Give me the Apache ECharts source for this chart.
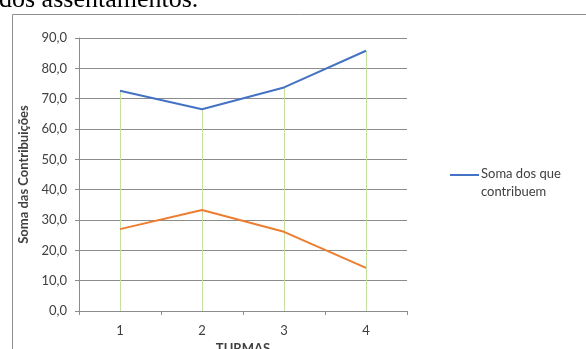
<!DOCTYPE html>
<html>
<head>
<meta charset="utf-8">
<script src="https://cdn.jsdelivr.net/npm/echarts@6/dist/echarts.min.js"></script>
<style>
html,body{margin:0;padding:0;background:#fff;}
#c{width:586px;height:349px;}
</style>
</head>
<body>
<div id="c"></div>
<script>
var categories = ['1', '2', '3', '4'];
var seriesNames = ['Soma dos que contribuem', 'Soma dos que não contribuem'];
var contribuem = [72.6, 66.5, 73.7, 85.8];
var naoContribuem = [27.0, 33.3, 26.1, 14.2];
var yTicks = [0, 10, 20, 30, 40, 50, 60, 70, 80, 90];
var yAxisTitle = 'Soma das Contribuições';
var xAxisTitle = 'TURMAS';
var headerText = 'dos assentamentos.';

var FONT = 'Lato';
var chart = echarts.init(document.getElementById('c'), null, {renderer: 'canvas'});

var dropLines = categories.map(function (c, i) {
  var top = Math.max(contribuem[i], naoContribuem[i]);
  return [{coord: [i, top]}, {coord: [i, 0]}];
});

chart.setOption({
  animation: false,
  backgroundColor: '#fff',
  textStyle: {fontFamily: FONT},
  grid: {left: 79, right: 179, top: 38, bottom: 38, containLabel: false, outerBoundsMode: 'none'},
  graphic: [
    {type: 'rect', left: 10, top: 12, z: -1, silent: true,
     shape: {x: 0, y: 0, width: 600, height: 360},
     style: {fill: 'none', stroke: '#8e8e8e', lineWidth: 1}},
    {type: 'text', x: -1, y: 0, silent: true,
     style: {text: headerText, font: '26px "Liberation Serif"', fill: '#000', verticalAlign: 'middle'}}
  ],
  legend: {
    data: [seriesNames[0]],
    left: 450, top: 165,
    padding: 0,
    orient: 'vertical',
    itemWidth: 29, itemHeight: 18,
    itemGap: 4,
    icon: 'path://M0,0 L29,0 L29,2 L0,2 Z M0,17.9 L0.01,17.9 L0.01,18 L0,18 Z',
    formatter: function (n) { return 'Soma dos que\ncontribuem'; },
    textStyle: {fontFamily: FONT, fontSize: 13, color: '#404040', lineHeight: 18, padding: [0,0,0,-3]}
  },
  xAxis: {
    type: 'category',
    data: categories,
    boundaryGap: true,
    name: xAxisTitle,
    nameLocation: 'middle',
    nameGap: 29,
    nameTextStyle: {fontFamily: FONT, fontSize: 13, fontWeight: 'bold', color: '#404040'},
    axisLine: {lineStyle: {color: '#8c8c8c', width: 1}},
    axisTick: {show: true, length: 4, lineStyle: {color: '#8c8c8c'}},
    axisLabel: {margin: 13, fontSize: 13, color: '#404040', fontFamily: FONT},
    splitLine: {show: false}
  },
  yAxis: {
    type: 'value',
    min: yTicks[0], max: yTicks[yTicks.length - 1], interval: yTicks[1] - yTicks[0],
    name: yAxisTitle,
    nameLocation: 'middle',
    nameGap: 41,
    nameTextStyle: {fontFamily: FONT, fontSize: 13, fontWeight: 'bold', color: '#404040'},
    axisLine: {show: true, lineStyle: {color: '#8c8c8c', width: 1}},
    axisTick: {show: true, length: 4, lineStyle: {color: '#8c8c8c'}},
    axisLabel: {margin: 12, fontSize: 13, color: '#404040', fontFamily: FONT,
      formatter: function (v) { return v.toFixed(1).replace('.', ','); }},
    splitLine: {show: true, lineStyle: {color: '#8c8c8c', width: 1}}
  },
  series: [
    {
      name: seriesNames[0], type: 'line', data: contribuem,
      symbol: 'none', lineStyle: {color: '#4472C4', width: 2}, itemStyle: {color: '#4472C4'},
      z: 3,
      markLine: {
        silent: true, symbol: 'none', label: {show: false},
        lineStyle: {color: '#c3e0a0', width: 1, type: 'solid'},
        z: 1,
        data: dropLines
      }
    },
    {
      name: seriesNames[1], type: 'line', data: naoContribuem,
      symbol: 'none', lineStyle: {color: '#ED7D31', width: 2}, itemStyle: {color: '#ED7D31'},
      z: 3
    }
  ]
});
</script>
</body>
</html>
